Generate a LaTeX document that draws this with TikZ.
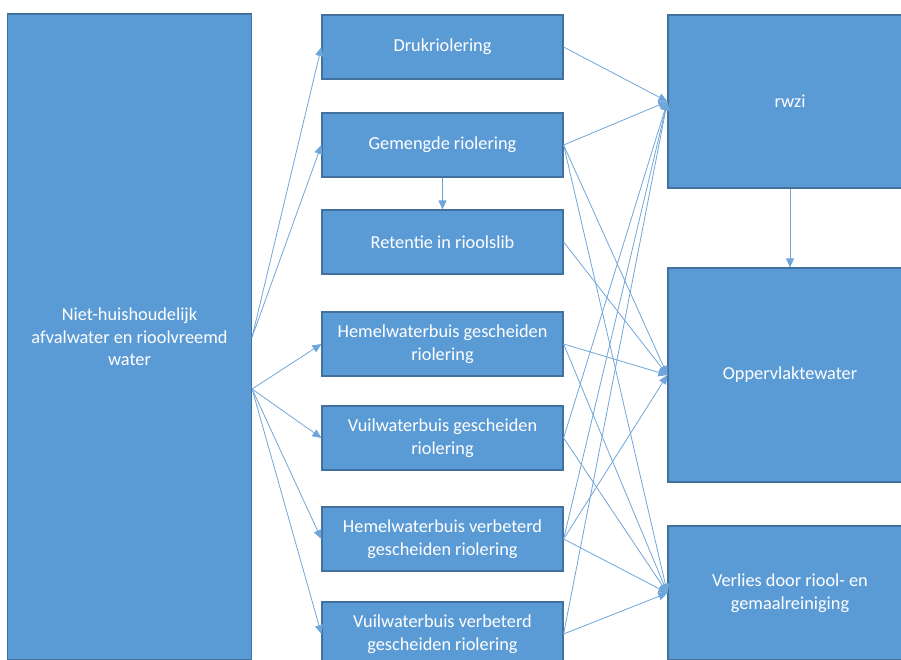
\documentclass[tikz,border=0pt]{standalone}
\usepackage{fontspec}
\setmainfont{Carlito}
\usetikzlibrary{arrows.meta}
\definecolor{boxblue}{HTML}{5B9BD5}
\definecolor{boxedge}{HTML}{41719C}
\definecolor{flowline}{HTML}{6FA6DA}

\begin{document}
\begin{tikzpicture}[x=1pt,y=-1pt,
  blok/.style={draw=boxedge,line width=1.2pt,fill=boxblue,text=white,align=center,
    font=\fontsize{18.3}{22.5}\selectfont,inner sep=0pt},
  smal/.style={blok,minimum width=241pt,minimum height=64pt},
  breed/.style={blok,minimum width=244pt},
  flow/.style={draw=flowline,line width=0.8pt,-{Triangle[length=9pt,width=8pt]}}]
\useasboundingbox (0,0) rectangle (901,659);
% bron links
\node [breed,minimum height=646pt] (bron) at (129.5,337) {Niet-huishoudelijk\\afvalwater en rioolvreemd\\water};
\coordinate (bronlaag) at ([yshift=-52pt]bron.east);
% stelsels midden
\node [smal] (druk) at (442.5,47) {Drukriolering};
\node [smal] (gemengd) at (442.5,145) {Gemengde riolering};
\node [smal] (retentie) at (442.5,242) {Retentie in rioolslib};
\node [smal] (hwagesch) at (442.5,344) {Hemelwaterbuis gescheiden\\riolering};
\node [smal] (dwagesch) at (442.5,438) {Vuilwaterbuis gescheiden\\riolering};
\node [smal] (hwaverb) at (442.5,539) {Hemelwaterbuis verbeterd\\gescheiden riolering};
\node [smal] (dwaverb) at (442.5,634) {Vuilwaterbuis verbeterd\\gescheiden riolering};
% bestemmingen rechts
\node [breed,minimum height=173pt] (rwzi) at (790,101.5) {rwzi};
\node [breed,minimum height=214pt] (opp) at (790,375) {Oppervlaktewater};
\node [breed,minimum height=134pt] (verlies) at (790,593) {Verlies door riool- en\\gemaalreiniging};
% pijlen
\draw [flow] (bron.east) -- (druk.west);
\draw [flow] (bron.east) -- (gemengd.west);
\foreach \doel in {hwagesch,dwagesch,hwaverb,dwaverb}
  \draw [flow] (bronlaag) -- (\doel.west);
\draw [flow] (gemengd.south) -- (retentie.north);
\draw [flow] (rwzi.south) -- (opp.north);
\foreach \van/\naar in {druk/rwzi,gemengd/rwzi,gemengd/opp,gemengd/verlies,retentie/opp,%
  hwagesch/opp,hwagesch/verlies,dwagesch/rwzi,dwagesch/verlies,%
  hwaverb/rwzi,hwaverb/opp,hwaverb/verlies,dwaverb/rwzi,dwaverb/verlies}
  \draw [flow] (\van.east) -- (\naar.west);
\end{tikzpicture}
\end{document}
